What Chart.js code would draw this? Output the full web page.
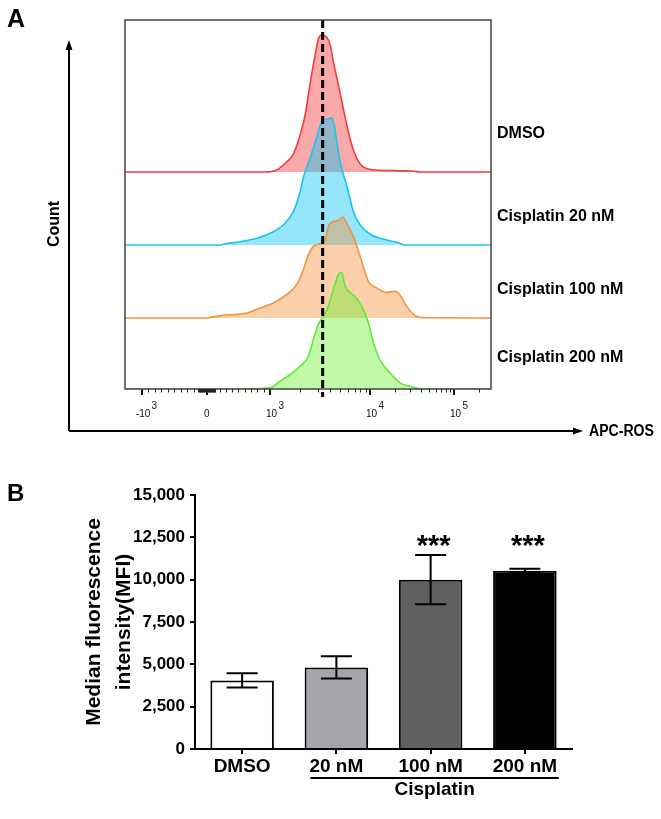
<!DOCTYPE html>
<html lang="en">
  <head>
    <meta charset="UTF-8" />
    <title>APC-ROS histograms and MFI</title>
    <script src="https://cdn.jsdelivr.net/npm/chart.js@4.4.1/dist/chart.umd.min.js"></script>
    <style>
      body { margin: 0; background: #fff; }
      #figure { position: relative; width: 661px; height: 819px; }
      #panelA { position: absolute; left: 0; top: 0; }
      #panelB { position: absolute; left: 0; top: 450px; }
    </style>
  </head>
  <body>
    <div id="figure">
      <canvas id="panelA" width="661" height="450"></canvas>
      <canvas id="panelB" width="661" height="369"></canvas>
    </div>
    <script>
      // ---- Panel A data: histograms (x = display channel 0-1024, y = count) ----
      const sampleNames = ["DMSO", "Cisplatin 20 nM", "Cisplatin 100 nM", "Cisplatin 200 nM"];
      const trackOffsets = [217, 144, 71, 0]; // stacked baseline of each histogram

      const dmsoChannel = [0, 392, 424, 452, 471, 490, 504, 513, 522, 532, 541, 550, 564, 574, 583, 597, 611, 625, 639, 658, 686, 741, 807, 825, 1024];
      const dmsoCount = [0, 0, 2, 10, 18, 37, 57, 77, 97, 117, 133, 137, 135, 127, 110, 87, 63, 40, 22, 8, 2.5, 1.5, 0.7, 0, 0];

      const cis20Channel = [0, 270, 275, 322, 369, 415, 443, 471, 490, 501, 518, 541, 550, 555, 569, 578, 585, 600, 625, 639, 658, 690, 732, 769, 779, 1024];
      const cis20Count = [0, 0, 0.7, 3.3, 6.7, 13.3, 20, 33.3, 53.3, 70, 86.7, 113.3, 123.3, 125, 126, 127.3, 120, 86.7, 53.3, 33.3, 20, 10, 5, 1.7, 0, 0];

      const cis100Channel = [0, 230, 238, 275, 341, 378, 415, 452, 480, 499, 513, 527, 550, 560, 569, 583, 597, 609, 620, 639, 658, 681, 704, 732, 755, 769, 788, 816, 844, 1024];
      const cis100Count = [0, 0, 0.6, 2.6, 5, 10, 15, 23.3, 33.3, 48.3, 63.3, 71.6, 75, 78.3, 91.6, 96.6, 97.6, 101, 95, 81.6, 61.6, 36.6, 30, 25.6, 26.6, 23.3, 11.6, 1.6, 0.3, 0];

      const cis200Channel = [0, 320, 331, 406, 434, 462, 490, 513, 527, 541, 555, 569, 583, 597, 606, 616, 630, 643, 662, 681, 695, 713, 741, 769, 797, 825, 840, 1024];
      const cis200Count = [0, 0, 0.2, 1.2, 7.8, 14.5, 22.8, 32.8, 49.5, 64.5, 72.8, 82.8, 99.5, 114.5, 116.8, 102.8, 96.2, 92.8, 82.8, 66.2, 46.2, 29.5, 16.2, 6.2, 2.8, 0.2, 0, 0];

      const majorTickChannels = [47, 229, 406, 686, 921]; // -10^3, 0, 10^3, 10^4, 10^5
      const majorTickBase = ["-10", "0", "10", "10", "10"];
      const majorTickExp = ["3", "", "3", "4", "5"];
      const medianLineChannel = 553;

      // ---- Panel B data: median fluorescence intensity ----
      const groups = ["DMSO", "20 nM", "100 nM", "200 nM"];
      const mfiMean = [4050, 4820, 10000, 10520];
      const mfiSd = [420, 660, 1450, 130];
      const significance = ["", "", "***", "***"];
      const mfiMax = 15000;
      const mfiStep = 2500;

      const FONT = "'Liberation Sans', Arial, sans-serif";
      Chart.defaults.font.family = FONT;
      Chart.defaults.color = "#000";

      const strokes = ["#f23d3d", "#1cc3ef", "#f29340", "#5ee83a"];
      const fills = ["rgba(240,40,40,0.4)", "rgba(20,200,245,0.45)", "rgba(245,140,50,0.42)", "rgba(110,240,50,0.42)"];
      const channels = [dmsoChannel, cis20Channel, cis100Channel, cis200Channel];
      const counts = [dmsoCount, cis20Count, cis100Count, cis200Count];

      // biexponential-ish mapping used only to place the minor ticks
      function toChannel(v) {
        const [nNeg, nZero, nK, n10K, n100K] = majorTickChannels;
        if (v <= 0) return nZero + (v / 1000) * (nZero - nNeg);
        if (v <= 1000) return nZero + (v / 1000) * (nK - nZero);
        if (v <= 10000) return nK + Math.log10(v / 1000) * (n10K - nK);
        return n10K + Math.log10(v / 10000) * (n100K - n10K);
      }
      const minorTicks = [];
      for (let k = -900; k <= -200; k += 100) minorTicks.push(k);
      for (let k = -130; k <= 130; k += 10) minorTicks.push(k);
      for (let k = 200; k <= 900; k += 100) minorTicks.push(k);
      for (const d of [1000, 10000]) for (let m = 2; m <= 9; m++) minorTicks.push(m * d);
      minorTicks.push(200000);

      const histDatasets = sampleNames.map((name, i) => ({
        label: name,
        data: channels[i].map((c, j) => ({ x: c, y: trackOffsets[i] + counts[i][j] })),
        borderColor: strokes[i],
        backgroundColor: fills[i],
        borderWidth: 1.6,
        pointRadius: 0,
        cubicInterpolationMode: "monotone",
        fill: { value: trackOffsets[i] },
        order: 4 - i,
      }));
      histDatasets.push({
        label: "median",
        data: [{ x: medianLineChannel, y: 369 }, { x: medianLineChannel, y: -8 }],
        borderColor: "#000",
        borderWidth: 3,
        borderDash: [8, 4],
        pointRadius: 0,
        fill: false,
        clip: false,
        order: 0,
      });

      function arrow(ctx, x1, y1, x2, y2) {
        const a = Math.atan2(y2 - y1, x2 - x1);
        ctx.beginPath();
        ctx.moveTo(x1, y1);
        ctx.lineTo(x2 - 9 * Math.cos(a), y2 - 9 * Math.sin(a));
        ctx.stroke();
        ctx.beginPath();
        ctx.moveTo(x2, y2);
        ctx.lineTo(x2 - 10 * Math.cos(a) + 3.5 * Math.sin(a), y2 - 10 * Math.sin(a) - 3.5 * Math.cos(a));
        ctx.lineTo(x2 - 10 * Math.cos(a) - 3.5 * Math.sin(a), y2 - 10 * Math.sin(a) + 3.5 * Math.cos(a));
        ctx.closePath();
        ctx.fill();
      }

      const labelLift = [38, 28, 28, 31]; // where the sample name sits above each baseline

      const panelADecor = {
        id: "panelADecor",
        afterDraw(chart) {
          const { ctx, chartArea: ca, scales } = chart;
          ctx.save();
          // frame
          ctx.strokeStyle = "#444";
          ctx.lineWidth = 1.5;
          ctx.strokeRect(ca.left, ca.top, ca.right - ca.left, ca.bottom - ca.top);
          // minor ticks
          ctx.strokeStyle = "#222";
          ctx.lineWidth = 1;
          minorTicks.forEach((v) => {
            const px = Math.round(scales.x.getPixelForValue(toChannel(v))) + 0.5;
            ctx.beginPath();
            ctx.moveTo(px, ca.bottom);
            ctx.lineTo(px, ca.bottom + 3.5);
            ctx.stroke();
          });
          // sample names
          ctx.fillStyle = "#000";
          ctx.font = "bold 16px " + FONT;
          ctx.textBaseline = "middle";
          ctx.textAlign = "left";
          sampleNames.forEach((name, i) => {
            ctx.fillText(name, ca.right + 6, scales.y.getPixelForValue(trackOffsets[i] + labelLift[i]));
          });
          // outer axes arrows
          ctx.strokeStyle = "#000";
          ctx.lineWidth = 2;
          arrow(ctx, 69, 431, 69, 40);
          arrow(ctx, 69, 431, 583, 431);
          ctx.save();
          ctx.translate(589, 432);
          ctx.scale(0.88, 1);
          ctx.fillText("APC-ROS", 0, 0);
          ctx.restore();
          ctx.save();
          ctx.translate(55, 224);
          ctx.rotate(-Math.PI / 2);
          ctx.textAlign = "center";
          ctx.fillText("Count", 0, 0);
          ctx.restore();
          ctx.font = "bold 25px " + FONT;
          ctx.textBaseline = "alphabetic";
          ctx.fillText("A", 7, 27);
          ctx.restore();
        },
      };

      new Chart(document.getElementById("panelA"), {
        type: "line",
        data: { datasets: histDatasets },
        options: {
          responsive: false,
          animation: false,
          layout: { padding: { left: 125, right: 170, top: 20, bottom: 0 } },
          plugins: { legend: { display: false }, tooltip: { enabled: false } },
          scales: {
            x: {
              type: "linear",
              min: 0,
              max: 1024,
              afterBuildTicks: (scale) => {
                scale.ticks = majorTickChannels.map((v) => ({ value: v }));
              },
              afterFit: (scale) => {
                scale.height = 61;
              },
              ticks: {
                autoSkip: false,
                maxRotation: 0,
                padding: 8,
                color: "#111",
                font: { size: 10, lineHeight: 0.72 },
                callback: (value, index) => {
                  const base = majorTickBase[index];
                  const exp = majorTickExp[index];
                  const pad = " ".repeat(base.length === 3 ? 9 : 8);
                  return [exp ? pad + exp : "", exp ? " " + base : base];
                },
              },
              grid: { drawOnChartArea: false, tickLength: 6, color: "#111", lineWidth: 2 },
              border: { display: false },
            },
            y: { display: false, min: 0, max: 369 },
          },
        },
        plugins: [panelADecor],
      });

      // ---- Panel B ----
      const panelBDecor = {
        id: "panelBDecor",
        afterDatasetsDraw(chart) {
          const { ctx, scales } = chart;
          const meta = chart.getDatasetMeta(0);
          ctx.save();
          ctx.strokeStyle = "#000";
          ctx.lineWidth = 2;
          meta.data.forEach((bar, i) => {
            const yTop = scales.y.getPixelForValue(mfiMean[i] + mfiSd[i]);
            const yBot = scales.y.getPixelForValue(mfiMean[i] - mfiSd[i]);
            ctx.beginPath();
            ctx.moveTo(bar.x, yTop);
            ctx.lineTo(bar.x, yBot);
            ctx.moveTo(bar.x - 15.5, yTop);
            ctx.lineTo(bar.x + 15.5, yTop);
            ctx.moveTo(bar.x - 15.5, yBot);
            ctx.lineTo(bar.x + 15.5, yBot);
            ctx.stroke();
          });
          ctx.restore();
        },
        afterDraw(chart) {
          const { ctx, chartArea: ca, scales } = chart;
          ctx.save();
          ctx.fillStyle = "#000";
          ctx.strokeStyle = "#000";
          // significance stars
          ctx.font = "bold 29px " + FONT;
          ctx.textAlign = "center";
          ctx.textBaseline = "alphabetic";
          const cy = scales.y.getPixelForValue(12300);
          significance.forEach((s, i) => {
            if (!s) return;
            const m = ctx.measureText(s);
            const base = cy + (m.actualBoundingBoxAscent - m.actualBoundingBoxDescent) / 2;
            ctx.fillText(s, scales.x.getPixelForValue(i) + 3, base);
          });
          // Cisplatin group bracket
          const x1 = scales.x.getPixelForValue(1) - 26;
          const x2 = scales.x.getPixelForValue(3) + 34;
          ctx.lineWidth = 2;
          ctx.beginPath();
          ctx.moveTo(x1, ca.bottom + 29);
          ctx.lineTo(x2, ca.bottom + 29);
          ctx.stroke();
          ctx.font = "bold 19px " + FONT;
          ctx.fillText("Cisplatin", (x1 + x2) / 2, ca.bottom + 46);
          // panel letter
          ctx.textAlign = "left";
          ctx.font = "bold 24px " + FONT;
          ctx.fillText("B", 7, 51);
          ctx.restore();
        },
      };

      new Chart(document.getElementById("panelB"), {
        type: "bar",
        data: {
          labels: groups,
          datasets: [
            {
              label: "MFI",
              data: mfiMean,
              backgroundColor: ["#ffffff", "#a6a6aa", "#606060", "#000000"],
              borderColor: "#000",
              borderWidth: 2,
              barPercentage: 0.674,
              categoryPercentage: 1,
            },
          ],
        },
        options: {
          responsive: false,
          animation: false,
          layout: { padding: { left: 78, right: 89, top: 45, bottom: 0 } },
          plugins: { legend: { display: false }, tooltip: { enabled: false } },
          scales: {
            x: {
              afterFit: (scale) => {
                scale.height = 70;
              },
              ticks: { padding: 1, color: "#000", font: { size: 19, weight: "bold", lineHeight: 1.2 } },
              grid: { offset: false, drawOnChartArea: false, tickLength: 5, color: "#000", lineWidth: 2 },
              border: { color: "#000", width: 2 },
            },
            y: {
              min: 0,
              max: mfiMax,
              afterFit: (scale) => {
                scale.width = 117;
              },
              ticks: {
                stepSize: mfiStep,
                padding: 5,
                color: "#000",
                font: { size: 17, weight: "bold" },
                callback: (v) => v.toLocaleString("en-US"),
              },
              grid: { drawOnChartArea: false, tickLength: 5, color: "#000", lineWidth: 2 },
              border: { color: "#000", width: 2 },
              title: {
                display: true,
                text: ["Median fluorescence", "intensity(MFI)"],
                color: "#000",
                padding: { top: 2, bottom: 0 },
                font: { size: 21, weight: "bold", lineHeight: 1.4 },
              },
            },
          },
        },
        plugins: [panelBDecor],
      });
    </script>
  </body>
</html>
